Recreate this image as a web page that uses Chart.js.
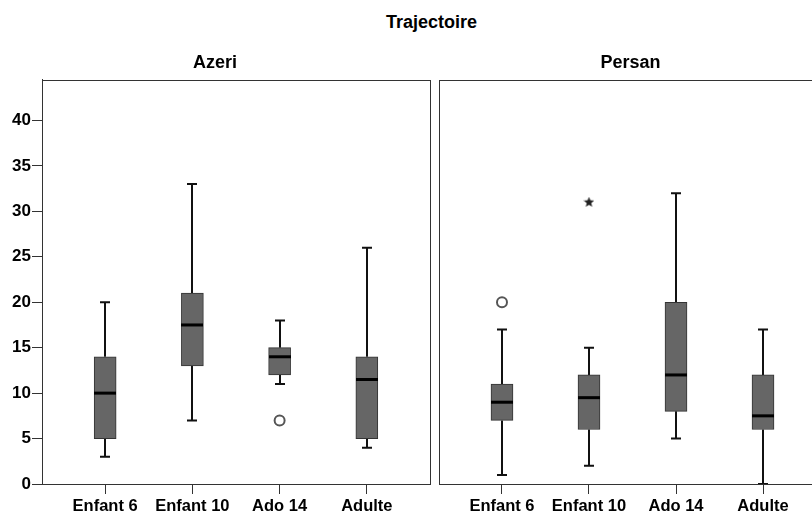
<!DOCTYPE html>
<html>
<head>
<meta charset="utf-8">
<script src="https://cdn.jsdelivr.net/npm/chart.js@4.4.1/dist/chart.umd.min.js"></script>
<style>
  html, body { margin: 0; padding: 0; background: #fff; overflow: hidden; }
  #wrap { position: relative; width: 812px; height: 513px; overflow: hidden; }
  #title { position: absolute; left: 0; top: 12px; width: 863px; text-align: center;
           font: bold 18px "Liberation Sans", Arial, sans-serif; color: #000; }
  #azeriBox { position: absolute; left: 0; top: 0; width: 440px; height: 513px; }
  #persanBox { position: absolute; left: 432px; top: 0; width: 404px; height: 513px; }
</style>
</head>
<body>
<div id="wrap">
  <div id="title">Trajectoire</div>
  <div id="azeriBox"><canvas id="azeriChart" width="440" height="513"></canvas></div>
  <div id="persanBox"><canvas id="persanChart" width="404" height="513"></canvas></div>
</div>
<script>
const categories = ['Enfant 6', 'Enfant 10', 'Ado 14', 'Adulte'];
const yTicks = [0, 5, 10, 15, 20, 25, 30, 35, 40];

// Azeri
const azeriMin = [3, 7, 11, 4];
const azeriQ1 = [5, 13, 12, 5];
const azeriMedian = [10, 17.5, 14, 11.5];
const azeriQ3 = [14, 21, 15, 14];
const azeriMax = [20, 33, 18, 26];
const azeriOutlierCat = [2];
const azeriOutlierVal = [7];
const azeriExtremeCat = [];
const azeriExtremeVal = [];

// Persan
const persanMin = [1, 2, 5, 0];
const persanQ1 = [7, 6, 8, 6];
const persanMedian = [9, 9.5, 12, 7.5];
const persanQ3 = [11, 12, 20, 12];
const persanMax = [17, 15, 32, 17];
const persanOutlierCat = [0];
const persanOutlierVal = [20];
const persanExtremeCat = [1];
const persanExtremeVal = [31];

const FONT = '"Liberation Sans", Arial, sans-serif';

const statsById = {
  azeriChart: { min: azeriMin, q1: azeriQ1, median: azeriMedian, q3: azeriQ3, max: azeriMax,
    outCat: azeriOutlierCat, outVal: azeriOutlierVal, extCat: azeriExtremeCat, extVal: azeriExtremeVal },
  persanChart: { min: persanMin, q1: persanQ1, median: persanMedian, q3: persanQ3, max: persanMax,
    outCat: persanOutlierCat, outVal: persanOutlierVal, extCat: persanExtremeCat, extVal: persanExtremeVal }
};

function starImage(size, color) {
  const c = document.createElement('canvas');
  c.width = c.height = size;
  const g = c.getContext('2d');
  g.fillStyle = color;
  g.beginPath();
  for (let k = 0; k < 10; k++) {
    const r = k % 2 ? size * 0.22 : size * 0.5;
    const a = -Math.PI / 2 + k * Math.PI / 5;
    g.lineTo(size / 2 + r * Math.cos(a), size / 2 + r * Math.sin(a));
  }
  g.closePath();
  g.fill();
  return c;
}

// whiskers, caps, medians and the panel frame
const boxplotPlugin = {
  id: 'boxplot',
  beforeDatasetsDraw(chart) {
    const s = statsById[chart.canvas.id];
    const x = chart.scales.x, y = chart.scales.y;
    const ctx = chart.ctx;
    ctx.save();
    ctx.strokeStyle = '#111';
    ctx.lineWidth = 2;
    categories.forEach((c, i) => {
      const px = Math.round(x.getPixelForValue(i));
      ctx.beginPath();
      ctx.moveTo(px, y.getPixelForValue(s.min[i]));
      ctx.lineTo(px, y.getPixelForValue(s.q1[i]));
      ctx.moveTo(px, y.getPixelForValue(s.q3[i]));
      ctx.lineTo(px, y.getPixelForValue(s.max[i]));
      ctx.moveTo(px - 5, y.getPixelForValue(s.min[i]));
      ctx.lineTo(px + 5, y.getPixelForValue(s.min[i]));
      ctx.moveTo(px - 5, y.getPixelForValue(s.max[i]));
      ctx.lineTo(px + 5, y.getPixelForValue(s.max[i]));
      ctx.stroke();
    });
    ctx.restore();
  },
  afterDatasetsDraw(chart) {
    const s = statsById[chart.canvas.id];
    const x = chart.scales.x, y = chart.scales.y;
    const ctx = chart.ctx;
    ctx.save();
    ctx.strokeStyle = '#000';
    ctx.lineWidth = 3;
    categories.forEach((c, i) => {
      const px = Math.round(x.getPixelForValue(i));
      const py = y.getPixelForValue(s.median[i]);
      ctx.beginPath();
      ctx.moveTo(px - 11, py);
      ctx.lineTo(px + 11, py);
      ctx.stroke();
    });
    const a = chart.chartArea;
    ctx.strokeStyle = '#333';
    ctx.lineWidth = 1;
    ctx.strokeRect(Math.round(a.left) + 0.5, Math.round(a.top) + 0.5,
      Math.round(a.right - a.left), Math.round(a.bottom - a.top));
    ctx.restore();
  }
};

function makeChart(id, title, showY, padLeft, padRight) {
  const st = statsById[id];
  return new Chart(document.getElementById(id), {
    type: 'bar',
    data: {
      datasets: [{
        type: 'bar',
        data: categories.map((c, i) => ({ x: i, y: [st.q1[i], st.q3[i]] })),
        backgroundColor: '#666666',
        borderColor: '#333333',
        borderWidth: 1,
        borderSkipped: false,
        barThickness: 22
      }, {
        type: 'scatter',
        data: st.outCat.map((c, i) => ({ x: c, y: st.outVal[i] })),
        pointStyle: 'circle',
        radius: 5,
        backgroundColor: '#ffffff',
        borderColor: '#555555',
        borderWidth: 2
      }, {
        type: 'scatter',
        data: st.extCat.map((c, i) => ({ x: c, y: st.extVal[i] })),
        pointStyle: starImage(11, '#222'),
        radius: 6
      }]
    },
    options: {
      responsive: false,
      animation: false,
      devicePixelRatio: 1,
      layout: { padding: { left: padLeft, right: padRight, top: 0, bottom: 0 } },
      plugins: {
        legend: { display: false },
        tooltip: { enabled: false },
        title: {
          display: true,
          text: title,
          color: '#000',
          font: { family: FONT, size: 18, weight: 'bold' },
          padding: { top: 52, bottom: 6 }
        }
      },
      scales: {
        x: {
          type: 'linear',
          offset: false,
          min: -0.724,
          max: 3.724,
          afterBuildTicks: (axis) => { axis.ticks = categories.map((c, i) => ({ value: i })); },
          afterFit: (scale) => { scale.height = 29; },
          ticks: {
            autoSkip: false,
            maxRotation: 0,
            padding: 3,
            color: '#000',
            font: { family: FONT, size: 16.5, weight: 'bold' },
            callback: (v) => categories[v]
          },
          grid: { offset: false, drawOnChartArea: false, tickLength: 10, color: '#333' },
          border: { color: '#333' }
        },
        y: {
          display: showY,
          min: 0,
          max: 44.5,
          afterBuildTicks: (axis) => { axis.ticks = yTicks.map(v => ({ value: v })); },
          afterFit: (scale) => { scale.width = showY ? 42 : 0; },
          ticks: {
            padding: 1,
            color: '#000',
            font: { family: FONT, size: 17, weight: 'bold' }
          },
          grid: { drawOnChartArea: false, tickLength: 10, color: '#333' },
          border: { color: '#333' }
        }
      }
    },
    plugins: [boxplotPlugin]
  });
}

makeChart('azeriChart', 'Azeri', true, 0, 10);
makeChart('persanChart', 'Persan', false, 3, 10);
</script>
</body>
</html>
